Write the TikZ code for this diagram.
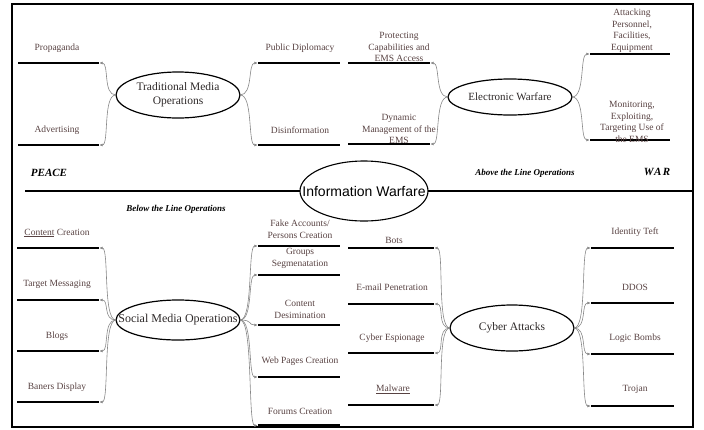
\documentclass[tikz,border=0pt]{standalone}
\usepackage{fontspec}
\setmainfont{Liberation Serif}
\newfontfamily\arialfont{Liberation Sans}
\usepackage{xcolor}
\usetikzlibrary{shapes.geometric, positioning, arrows.meta}
\definecolor{labeltext}{RGB}{88,66,66}
\definecolor{hubtext}{RGB}{45,40,40}
\definecolor{linkgray}{RGB}{135,135,135}

\begin{document}
\begin{tikzpicture}[
        x=1pt, y=-1pt,
        hub/.style={rectangle, inner sep=0pt, align=center, text=hubtext, minimum width=124pt, font=\fontsize{11.5}{14}\selectfont},
        rim/.style={line width=1.2pt},
        bar/.style={fill=black, rectangle, inner sep=0pt, minimum height=2.3pt, minimum width=82pt},
        lbl/.style={text=labeltext, align=center, inner sep=0pt, font=\fontsize{9.5}{11.5}\selectfont},
        zone/.style={font=\fontsize{9}{11}\selectfont\bfseries\itshape, inner sep=0pt},
        link/.style={draw=linkgray, line width=0.6pt, -{Latex[length=3.5pt,width=3pt]}},
        wl/.style={out=180, in=0, out distance=13pt, in distance=10pt},
        wr/.style={out=0, in=180, out distance=13pt, in distance=10pt}
    ]
    \useasboundingbox (0,0) rectangle (704,429);
    \draw[line width=2pt] (12,4) rectangle (693,427);

    % Centre line
    \node[inner sep=0pt, minimum width=128pt, font=\fontsize{14}{16}\selectfont\arialfont] (iw) at (364,191) {Information Warfare};
    \draw[rim, line width=1.1pt] (iw.center) ellipse [x radius=64, y radius=30];
    \coordinate (peaceend) at (25,191);
    \coordinate (warend) at (693,191);
    \draw[line width=1.1pt] (peaceend) -- (iw.west);
    \draw[line width=1.1pt] (iw.east) -- (warend);
    \node[zone, font=\fontsize{11}{13}\selectfont\bfseries\itshape] (peace) at (49,173) {PEACE};
    \node[zone, font=\fontsize{11}{13}\selectfont\bfseries\itshape\addfontfeature{LetterSpace=12}] (war) at (657,172) {WAR};
    \node[zone] (below) at (176,209) {Below the Line Operations};
    \node[zone] (above) at (525,173) {Above the Line Operations};

    % Hubs
    \node[hub] (tmo) at (178,95) {Traditional Media\\Operations};
    \draw[rim] (tmo.center) ellipse [x radius=62, y radius=23];
    \node[hub, font=\fontsize{11}{13}\selectfont] (ew) at (510,97) {Electronic Warfare};
    \draw[rim] (ew.center) ellipse [x radius=62, y radius=18];
    \node[hub, font=\fontsize{12}{14}\selectfont] (smo) at (178,320) {Social Media Operations};
    \draw[rim] (smo.center) ellipse [x radius=62, y radius=20];
    \node[hub] (ca) at (512,328) {Cyber Attacks};
    \draw[rim] (ca.center) ellipse [x radius=62, y radius=23];

    % Traditional Media Operations
    \node[bar, minimum width=81pt] (prop) at (58.5,63) {};
    \node[bar, minimum width=81pt] (adv) at (58.5,145) {};
    \node[bar] (pubd) at (299,63) {};
    \node[bar] (disinf) at (299,145) {};
    \node[lbl] (prop-t) at (57,48) {Propaganda};
    \node[lbl] (adv-t) at (57,130) {Advertising};
    \node[lbl] (pubd-t) at (300,48) {Public Diplomacy};
    \node[lbl] (disinf-t) at (300,130) {Disinformation};
    \draw[link] (tmo.west) to[wl] (prop.east);
    \draw[link] (tmo.west) to[wl] (adv.east);
    \draw[link] (tmo.east) to[wr] (pubd.west);
    \draw[link] (tmo.east) to[wr] (disinf.west);

    % Electronic Warfare
    \node[bar] (protect) at (389,63) {};
    \node[bar] (dynm) at (389,144) {};
    \node[bar, minimum width=80pt] (attack) at (630,54) {};
    \node[bar, minimum width=80pt] (monit) at (630,140) {};
    \node[lbl] (protect-t) at (399,47) {Protecting\\Capabilities and\\EMS Access};
    \node[lbl] (dynm-t) at (399,129) {Dynamic\\Management of the\\EMS};
    \node[lbl] (attack-t) at (632,30.5) {Attacking\\Personnel,\\Facilities,\\Equipment};
    \node[lbl] (monit-t) at (632,122) {Monitoring,\\Exploiting,\\Targeting Use of\\the EMS};
    \draw[link] (ew.west) to[wl] (protect.east);
    \draw[link] (ew.west) to[wl] (dynm.east);
    \draw[link] (ew.east) to[wr] (attack.west);
    \draw[link] (ew.east) to[wr] (monit.west);

    % Social Media Operations
    \node[bar] (ccreat) at (58,248) {};
    \node[bar] (tmsg) at (58,300) {};
    \node[bar] (blogs) at (58,351) {};
    \node[bar] (baners) at (58,402) {};
    \node[bar] (fake) at (299,246) {};
    \node[bar] (groups) at (299,275) {};
    \node[bar] (cdesim) at (299,325) {};
    \node[bar] (webp) at (299,377) {};
    \node[bar] (forums) at (299,425.5) {};
    \node[lbl] (ccreat-t) at (57,233) {\underline{Content} Creation};
    \node[lbl] (tmsg-t) at (57,284) {Target Messaging};
    \node[lbl] (blogs-t) at (57,336) {Blogs};
    \node[lbl] (baners-t) at (57,387) {Baners Display};
    \node[lbl] (fake-t) at (300,229) {Fake Accounts/\\Persons Creation};
    \node[lbl] (groups-t) at (300,258.5) {Groups\\Segmenatation};
    \node[lbl] (cdesim-t) at (300,309.5) {Content\\Desimination};
    \node[lbl] (webp-t) at (300,361) {Web Pages Creation};
    \node[lbl] (forums-t) at (300,411) {Forums Creation};
    \draw[link] (smo.west) to[wl] (ccreat.east);
    \draw[link] (smo.west) to[wl] (tmsg.east);
    \draw[link] (smo.west) to[wl] (blogs.east);
    \draw[link] (smo.west) to[wl] (baners.east);
    \draw[link] (smo.east) to[wr] (fake.west);
    \draw[link] (smo.east) to[wr] (groups.west);
    \draw[link] (smo.east) to[wr] (cdesim.west);
    \draw[link] (smo.east) to[wr] (webp.west);
    \draw[link] (smo.east) to[wr] (forums.west);

    % Cyber Attacks
    \node[bar, minimum width=86pt] (bots) at (391,248) {};
    \node[bar, minimum width=86pt] (email) at (391,304) {};
    \node[bar, minimum width=86pt] (espion) at (391,353) {};
    \node[bar, minimum width=86pt] (malw) at (391,405) {};
    \node[bar, minimum width=83pt] (ident) at (632.5,248) {};
    \node[bar, minimum width=83pt] (ddos) at (632.5,303) {};
    \node[bar, minimum width=83pt] (logic) at (632.5,354) {};
    \node[bar, minimum width=83pt] (trojan) at (632.5,406) {};
    \node[lbl] (bots-t) at (394,240) {Bots};
    \node[lbl] (email-t) at (392,287) {E-mail Penetration};
    \node[lbl] (espion-t) at (392,338) {Cyber Espionage};
    \node[lbl] (malw-t) at (393,389) {\underline{Malware}};
    \node[lbl] (ident-t) at (635,232) {Identity Teft};
    \node[lbl] (ddos-t) at (635,287) {DDOS};
    \node[lbl] (logic-t) at (635,338) {Logic Bombs};
    \node[lbl] (trojan-t) at (635,389) {Trojan};
    \draw[link] (ca.west) to[wl] (bots.east);
    \draw[link] (ca.west) to[wl] (email.east);
    \draw[link] (ca.west) to[wl] (espion.east);
    \draw[link] (ca.west) to[wl] (malw.east);
    \draw[link] (ca.east) to[wr] (ident.west);
    \draw[link] (ca.east) to[wr] (ddos.west);
    \draw[link] (ca.east) to[wr] (logic.west);
    \draw[link] (ca.east) to[wr] (trojan.west);

\end{tikzpicture}
\end{document}
